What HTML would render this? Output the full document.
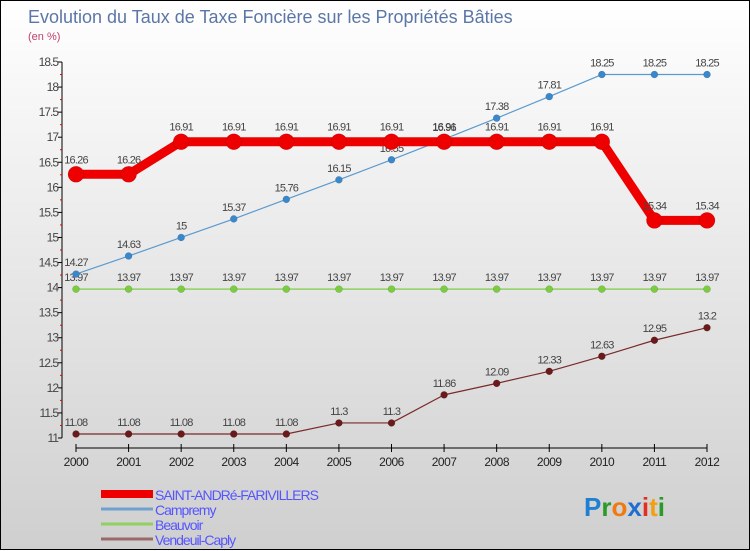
<!DOCTYPE html>
<html><head><meta charset="utf-8">
<style>
html,body{margin:0;padding:0}
body{width:750px;height:550px;overflow:hidden;font-family:"Liberation Sans",sans-serif}
#wrap{position:relative;width:748px;height:548px;border:1px solid #000;background:linear-gradient(#ffffff,#cfcfcf)}
svg{position:absolute;left:0;top:0}
</style></head>
<body>
<div id="wrap">
<svg id="chart" width="750" height="550"></svg>
</div>
<script>
const years=[2000,2001,2002,2003,2004,2005,2006,2007,2008,2009,2010,2011,2012];
const saint=[16.26,16.26,16.91,16.91,16.91,16.91,16.91,16.91,16.91,16.91,16.91,15.34,15.34];
const campremy=[14.27,14.63,15,15.37,15.76,16.15,16.55,16.96,17.38,17.81,18.25,18.25,18.25];
const beauvoir=[13.97,13.97,13.97,13.97,13.97,13.97,13.97,13.97,13.97,13.97,13.97,13.97,13.97];
const vendeuil=[11.08,11.08,11.08,11.08,11.08,11.3,11.3,11.86,12.09,12.33,12.63,12.95,13.2];
const yTicks=[11,11.5,12,12.5,13,13.5,14,14.5,15,15.5,16,16.5,17,17.5,18,18.5];
const seriesNames=["SAINT-ANDRé-FARIVILLERS","Campremy","Beauvoir","Vendeuil-Caply"];

const NS="http://www.w3.org/2000/svg";
const svg=document.getElementById('chart');
function X(i){return 75+i*(706-75)/(years.length-1);}
function Y(v){return 437-(v-11)*(437-61)/7.5;}
function el(t,a,p){const e=document.createElementNS(NS,t);for(const k in a)e.setAttribute(k,a[k]);(p||svg).appendChild(e);return e;}
function txt(x,y,s,a){const e=el('text',Object.assign({x:x,y:y},a));e.textContent=s;return e;}

let t=txt(27,22,"Evolution du Taux de Taxe Foncière sur les Propriétés Bâties",{'font-size':18,fill:'#5b76a8'});


t=txt(27,39,"(en %)",{'font-size':11,fill:'#c0406a'});



// axes
let ax=el('line',{x1:61,y1:61,x2:61,y2:437,stroke:'#000','stroke-width':1});


yTicks.forEach(v=>{
  el('line',{x1:57,y1:Y(v),x2:61,y2:Y(v),stroke:'#000'});
  el('line',{x1:59,y1:Y(v+0.25),x2:61,y2:Y(v+0.25),stroke:v<18.5?'#e00':'none'});
  const l=txt(57,Y(v)+4,String(v),{'font-size':12,fill:'#444','text-anchor':'end','letter-spacing':'-1'});
  
  
});
let xa=el('line',{x1:75,y1:447,x2:706,y2:447,stroke:'#000'});


years.forEach((yr,i)=>{
  el('line',{x1:X(i),y1:443,x2:X(i),y2:451,stroke:'#000'});
  const l=txt(X(i),465,String(yr),{'font-size':12,fill:'#222','text-anchor':'middle','letter-spacing':'-0.5'});
  
  
});

function series(data,color,w,r,name,dot){
  const g=el('g',{});
  
  
  el('polyline',{points:data.map((v,i)=>X(i)+','+Y(v)).join(' '),fill:'none',stroke:color,'stroke-width':w,'stroke-linejoin':'round'},g);
  data.forEach((v,i)=>{
    const c=el('circle',{cx:X(i),cy:Y(v),r:r,fill:dot,stroke:'#0003','stroke-width':0.5},g);
    
    
    const l=txt(X(i),Y(v)-8-(r>5?3:0),String(v),{'font-size':11,fill:'#444','text-anchor':'middle','letter-spacing':'-0.8'},g);
    
    
  });
}
series(vendeuil,'#7a2a2a',1.2,3.5,'vendeuil-series','#6a1a1a');
series(beauvoir,'#8fd060',1.5,3.5,'beauvoir-series','#7acc40');
series(campremy,'#5a9ad0',1.2,3.5,'campremy-series','#3a88cc');
series(saint,'#ee0000',9,8,'saint-andre-series','#ee0000');

// legend
const lc=[['#ee0000',8],['#6fa0d0',3],['#8fd060',3],['#9a6a6a',3]];
seriesNames.forEach((n,i)=>{
  const y=493+i*15;
  const g=el('g',{});
  
  
  el('line',{x1:100,y1:y,x2:152,y2:y,stroke:lc[i][0],'stroke-width':lc[i][1]},g);
  txt(154,y+6,n,{'font-size':14,fill:'#5555ff','letter-spacing':'-1'},g);
});
// logo
const lg=el('text',{x:583,y:515,'font-size':26,'font-weight':'bold'});


[['P','#1f7fd0'],['r','#2a9a2a'],['o','#f07a10'],['x','#1f6fd0'],['i','#e03020'],['t','#f0a010'],['i','#2a9a2a']].forEach(([c,f])=>{
  const s=el('tspan',{fill:f},lg);s.textContent=c;
});
</script>
</body></html>
